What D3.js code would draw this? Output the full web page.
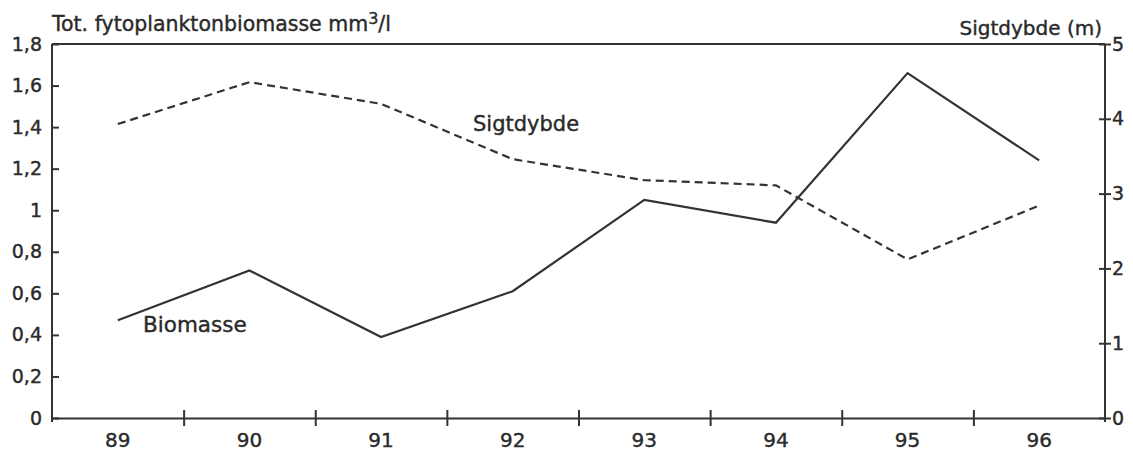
<!DOCTYPE html>
<html lang="da">
<head>
<meta charset="utf-8">
<title>Fytoplanktonbiomasse og sigtdybde</title>
<script src="https://d3js.org/d3.v7.min.js"></script>
<style>
  body { margin: 0; background: #fff; }
  #chart text { font-family: "DejaVu Sans", sans-serif; fill: #2a2a2a; stroke: #2a2a2a; stroke-width: 0.4px; }
  .axis path, .axis line { stroke: #333; stroke-width: 2; }
</style>
</head>
<body>
<div id="chart"></div>
<script>
// data
var aar = [89, 90, 91, 92, 93, 94, 95, 96];
var biomasse = [0.47, 0.71, 0.39, 0.61, 1.05, 0.94, 1.66, 1.24];
var sigtdybde = [3.93, 4.49, 4.2, 3.46, 3.18, 3.11, 2.12, 2.84];
var venstreTicks = [0, 0.2, 0.4, 0.6, 0.8, 1, 1.2, 1.4, 1.6, 1.8];
var venstreLabels = ["0", "0,2", "0,4", "0,6", "0,8", "1", "1,2", "1,4", "1,6", "1,8"];
var hoejreTicks = [0, 1, 2, 3, 4, 5];

var W = 1133, H = 457;
var margin = {top: 44, right: 28, bottom: 39, left: 52},
    w = W - margin.left - margin.right,
    h = H - margin.top - margin.bottom;

var svg = d3.select("#chart").append("svg")
    .attr("width", W).attr("height", H);
var g = svg.append("g")
    .attr("transform", "translate(" + margin.left + "," + margin.top + ")");

var x = d3.scaleLinear().domain([88.5, 96.5]).range([0, w]);
var yL = d3.scaleLinear().domain([0, 1.8]).range([h, 0]);
var yR = d3.scaleLinear().domain([0, 5]).range([h, 0]);

// ramme top
g.append("line").attr("x1", 0).attr("x2", w).attr("y1", 0).attr("y2", 0)
  .attr("stroke", "#333").attr("stroke-width", 2);

// x-akse: ticks mellem årene
var xg = g.append("g").attr("class", "axis")
  .attr("transform", "translate(0," + h + ")")
  .call(d3.axisBottom(x).tickValues(aar.slice(0, -1).map(d => d + 0.5))
        .tickSize(8).tickSizeOuter(0).tickFormat(""));
xg.selectAll(".tick line").attr("y1", -8);
g.selectAll(".aar").data(aar).enter().append("text")
  .attr("x", d => x(d)).attr("y", h + 29)
  .attr("text-anchor", "middle").style("font-size", "20px")
  .text(d => d);

// venstre akse
var lg = g.append("g").attr("class", "axis")
  .call(d3.axisLeft(yL).tickValues(venstreTicks).tickSize(8).tickSizeOuter(0)
        .tickFormat((d, i) => venstreLabels[i]));
lg.selectAll(".tick line").attr("x2", 7);
lg.selectAll(".tick text").attr("x", -10).style("font-size", "19px");
lg.select(".domain").remove();
g.append("line").attr("x1", 0).attr("x2", 0).attr("y1", 0).attr("y2", h + 4)
  .attr("stroke", "#333").attr("stroke-width", 2);

// højre akse
var rg = g.append("g").attr("class", "axis")
  .attr("transform", "translate(" + w + ",0)")
  .call(d3.axisRight(yR).tickValues(hoejreTicks).tickSize(6).tickSizeOuter(0)
        .tickFormat(d3.format("d")));
rg.selectAll(".tick line").attr("x1", -6);
rg.selectAll(".tick text").attr("x", 7).style("font-size", "19px");
rg.select(".domain").remove();
g.append("line").attr("x1", w).attr("x2", w).attr("y1", 0).attr("y2", h + 4)
  .attr("stroke", "#333").attr("stroke-width", 2);

// linjer
var bioLine = d3.line().x((d, i) => x(aar[i])).y(d => yL(d));
var sigtLine = d3.line().x((d, i) => x(aar[i])).y(d => yR(d));

g.append("path").datum(biomasse)
  .attr("d", bioLine).attr("fill", "none")
  .attr("stroke", "#333").attr("stroke-width", 2.2);
g.append("path").datum(sigtdybde)
  .attr("d", sigtLine).attr("fill", "none")
  .attr("stroke", "#333").attr("stroke-width", 2.2)
  .attr("stroke-dasharray", "8,5");

// tekster
g.append("text").attr("x", 91).attr("y", 288).style("font-size", "21.5px").text("Biomasse");
g.append("text").attr("x", 421).attr("y", 87).style("font-size", "21px").text("Sigtdybde");

svg.append("text").attr("x", 52).attr("y", 31).style("font-size", "20.5px")
  .html('Tot. fytoplanktonbiomasse mm<tspan dy="-7" style="font-size:16px">3</tspan><tspan dy="7">/l</tspan>');
svg.append("text").attr("x", 1102).attr("y", 35).attr("text-anchor", "end")
  .style("font-size", "20px").text("Sigtdybde (m)");
</script>
</body>
</html>
